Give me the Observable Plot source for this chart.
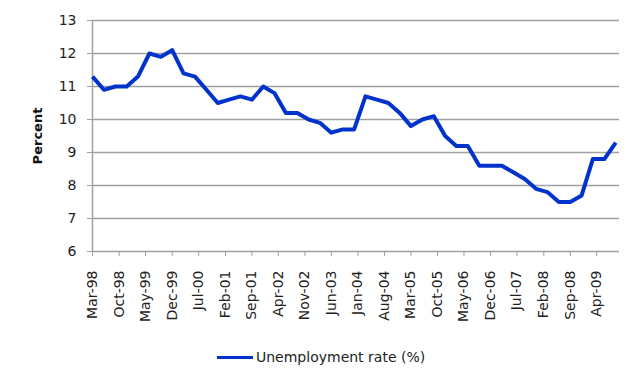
<!DOCTYPE html>
<html>
<head>
<meta charset="utf-8">
<script src="https://cdn.jsdelivr.net/npm/d3@7"></script>
<script src="https://cdn.jsdelivr.net/npm/@observablehq/plot@0.6"></script>
<style>
  html, body { margin: 0; padding: 0; background: #fff; }
  #legend { height: 34px; display: flex; align-items: center; padding-left: 217px;
    font-family: "DejaVu Sans", sans-serif; font-size: 14px; color: #222; }
  #legend .sw { width: 36px; height: 3px; background: #0033cc; margin-right: 3px; }
</style>
</head>
<body>
<div id="chart"></div>
<div id="legend"><span class="sw"></span><span>Unemployment rate (%)</span></div>
<script>
// Quarterly observations starting Mar-98
const startMonth = "Mar-98";
const values = [
  11.3, 10.9, 11.0, 11.0, 11.3, 12.0, 11.9, 12.1,
  11.4, 11.3, 10.9, 10.5, 10.6, 10.7, 10.6, 11.0,
  10.8, 10.2, 10.2, 10.0, 9.9, 9.6, 9.7, 9.7,
  10.7, 10.6, 10.5, 10.2, 9.8, 10.0, 10.1, 9.5,
  9.2, 9.2, 8.6, 8.6, 8.6, 8.4, 8.2, 7.9,
  7.8, 7.5, 7.5, 7.7, 8.8, 8.8, 9.3
];
const tickLabels = [
  "Mar-98", "Oct-98", "May-99", "Dec-99", "Jul-00", "Feb-01", "Sep-01",
  "Apr-02", "Nov-02", "Jun-03", "Jan-04", "Aug-04", "Mar-05", "Oct-05",
  "May-06", "Dec-06", "Jul-07", "Feb-08", "Sep-08", "Apr-09"
];
const axisEnd = "Oct-09";
const yTicks = [6, 7, 8, 9, 10, 11, 12, 13];
const seriesName = "Unemployment rate (%)";

const parse = d3.utcParse("%b-%y");
const fmt = d3.utcFormat("%b-%y");
const start = parse(startMonth);
const data = values.map((v, i) => ({date: d3.utcMonth.offset(start, 3 * i), value: v}));
const tickDates = tickLabels.map(parse);

const gridColor = "#a0a0a0";
const chart = Plot.plot({
  width: 640,
  height: 340,
  marginLeft: 92,
  marginRight: 21,
  marginTop: 20,
  marginBottom: 89,
  style: {fontFamily: "DejaVu Sans, sans-serif", fontSize: "14px", color: "#222", background: "#fff"},
  x: {type: "utc", domain: [start, parse(axisEnd)]},
  y: {domain: [6, 13]},
  marks: [
    Plot.gridY(yTicks, {stroke: gridColor, strokeOpacity: 1, strokeWidth: 1.5}),
    Plot.ruleX([start], {stroke: gridColor, strokeWidth: 1.5}),
    Plot.axisY(yTicks, {tickSize: 5, tickPadding: 11, stroke: gridColor, label: null, tickFormat: d => d,
      fontSize: 14}),
    Plot.axisX(tickDates, {tickSize: 5, tickPadding: 14, tickRotate: -90, stroke: gridColor,
      label: null, tickFormat: fmt, fontSize: 14}),
    Plot.line(data, {x: "date", y: "value", stroke: "#0033cc", strokeWidth: 4,
      strokeLinejoin: "round", strokeLinecap: "butt", title: () => seriesName}),
    Plot.text(["Percent"], {frameAnchor: "left", rotate: -90, dx: -55, textAnchor: "middle",
      fontWeight: "bold", fontSize: 13, fill: "#111"})
  ]
});
document.getElementById("chart").appendChild(chart);
</script>
</body>
</html>
